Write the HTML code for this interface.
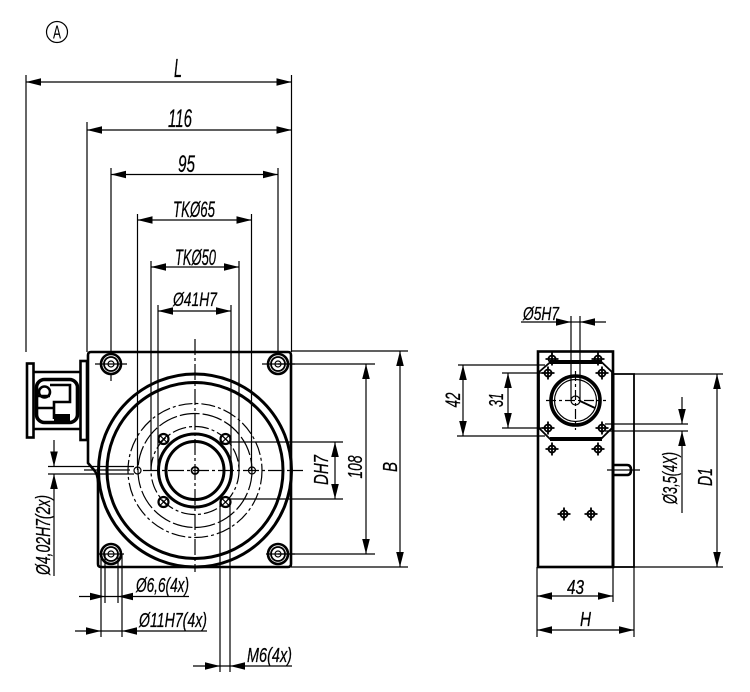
<!DOCTYPE html>
<html><head><meta charset="utf-8"><style>
html,body{margin:0;padding:0;background:#fff}
svg{display:block}
text{font-family:"Liberation Sans",sans-serif;font-style:italic;fill:#000;stroke:#000;stroke-width:.25}
.t{stroke:#000;stroke-width:1.2;fill:none}
.k{stroke:#000;stroke-width:2.6;fill:none}
.m{stroke:#000;stroke-width:1.8;fill:none}
.c{stroke:#000;stroke-width:1.2;fill:none;stroke-dasharray:16 3 3 3}
.d{stroke:#000;stroke-width:1.2;fill:none;stroke-dasharray:14 3 3 3}
</style></head><body>
<svg width="750" height="692" viewBox="0 0 750 692" xmlns="http://www.w3.org/2000/svg">
<defs>
<marker id="a" markerUnits="userSpaceOnUse" markerWidth="15" markerHeight="8" refX="15" refY="4" orient="auto-start-reverse"><path d="M0 .2L15 4L0 7.8Z" fill="#000"/></marker>
<g id="hole"><circle r="10" class="k"/><circle r="7" class="m"/><circle r="3" class="t"/></g>
<g id="xh"><circle r="5" stroke="#000" stroke-width="2.2" fill="none"/><path d="M-3.500-3.500L3.500 3.500M-3.500 3.500L3.500-3.500" class="t"/></g>
<g id="sh"><circle r="3.500" class="m"/><path d="M-6.500 0H6.500M0-6.500V6.500" class="m"/></g>
</defs>

<circle cx="57" cy="32" r="10.500" class="t"/>
<text x="57" y="38.500" font-size="18" text-anchor="middle" style="font-style:normal;stroke-width:0" textLength="8" lengthAdjust="spacingAndGlyphs">A</text>

<!-- Top dimensions -->
<path class="t" marker-start="url(#a)" marker-end="url(#a)" d="M26 82H291.500"/>
<path class="t" d="M26 75V352M291.500 75V352"/>
<path class="t" marker-start="url(#a)" marker-end="url(#a)" d="M87 130H291.500"/>
<path class="t" d="M87 122V352"/>
<path class="t" marker-start="url(#a)" marker-end="url(#a)" d="M111 174.500H278"/>
<path class="t" d="M111 168V352M278 168V352"/>
<path class="t" marker-start="url(#a)" marker-end="url(#a)" d="M137.500 220H251.500"/>
<path class="t" d="M137.500 214V470M251.500 214V470"/>
<path class="t" marker-start="url(#a)" marker-end="url(#a)" d="M151 267H239"/>
<path class="t" d="M151 261V470M239 261V470"/>
<path class="t" marker-start="url(#a)" marker-end="url(#a)" d="M158 311H231"/>
<path class="t" d="M158 305V470M231 305V470"/>
<text x="174" y="77" font-size="26" textLength="8" lengthAdjust="spacingAndGlyphs">L</text>
<text x="168" y="127" font-size="25" textLength="24" lengthAdjust="spacingAndGlyphs">116</text>
<text x="178" y="172" font-size="24" textLength="17" lengthAdjust="spacingAndGlyphs">95</text>
<text x="173" y="217" font-size="22" textLength="42" lengthAdjust="spacingAndGlyphs">TKØ65</text>
<text x="175" y="265" font-size="22" textLength="41" lengthAdjust="spacingAndGlyphs">TKØ50</text>
<text x="173" y="306" font-size="19" textLength="44" lengthAdjust="spacingAndGlyphs">Ø41H7</text>

<!-- Plate -->
<path class="k" d="M91 352H288Q291 352 291 355V564Q291 567 288 567H101Q98 567 98 564V483Q98 474 94 470L88 463V355Q88 352 91 352Z" fill="#fff"/>

<!-- Connector -->
<rect x="27" y="363.500" width="6.500" height="74" class="k"/>
<rect x="80.500" y="361" width="6.500" height="79" class="k"/>
<path class="k" d="M34 372H80M34 429H80"/>
<rect x="36.500" y="379.500" width="41" height="43" rx="8" stroke="#000" stroke-width="3.600" fill="none"/>
<circle cx="44.500" cy="392" r="5.500" stroke="#000" stroke-width="2.600" fill="none"/>
<path class="k" d="M50 385H70V402H54V419M38 408H54M38 396H50"/>
<path d="M54 414H70V421H54Z" fill="#000"/>

<!-- Circles -->
<circle cx="195" cy="470.500" r="96.500" stroke="#000" stroke-width="3" fill="none"/>
<circle cx="195" cy="470.500" r="88" stroke="#000" stroke-width="3" fill="none"/>
<circle cx="195" cy="470.500" r="36.500" stroke="#000" stroke-width="3" fill="none"/>
<circle cx="195" cy="470.500" r="29" stroke="#000" stroke-width="3" fill="none"/>
<circle cx="195" cy="470.500" r="3.500" class="m"/>
<circle cx="195" cy="470.500" r="67" class="d"/>
<circle cx="195" cy="470.500" r="57" class="d" style="stroke-dasharray:20 3"/>
<circle cx="195" cy="470.500" r="44" class="d"/>
<path class="c" d="M195 339V572M143 470.500H303"/>
<circle cx="137.500" cy="470.500" r="3.500" class="t"/>
<circle cx="252" cy="470.500" r="3.500" class="t"/>
<use href="#xh" x="163.500" y="439"/><use href="#xh" x="225.500" y="439"/>
<use href="#xh" x="163.500" y="502"/><use href="#xh" x="225.500" y="502"/>
<use href="#hole" x="111" y="364"/><use href="#hole" x="278" y="364"/>
<use href="#hole" x="111" y="554"/><use href="#hole" x="278" y="554"/>
<path class="t" d="M95 364H127M262 364H295M99 554H124M266 554H295M111 374V381"/>

<!-- Right-side dims of left view -->
<path class="t" d="M291 351H408M291 567H408M278 364H375M278 554H375M230 442H343M230 499H343"/>
<path class="t" marker-start="url(#a)" marker-end="url(#a)" d="M400 351V567"/>
<path class="t" marker-start="url(#a)" marker-end="url(#a)" d="M366 364V554"/>
<path class="t" marker-start="url(#a)" marker-end="url(#a)" d="M335 442V499"/>
<text transform="translate(397 467) rotate(-90)" font-size="20" text-anchor="middle" textLength="10" lengthAdjust="spacingAndGlyphs">B</text>
<text transform="translate(362 467) rotate(-90)" font-size="20" text-anchor="middle" textLength="23" lengthAdjust="spacingAndGlyphs">108</text>
<text transform="translate(328 470) rotate(-90)" font-size="20" text-anchor="middle" textLength="30" lengthAdjust="spacingAndGlyphs">DH7</text>

<!-- Ø4,02H7 -->
<path class="t" d="M48 466.500H134M48 474H134M84 470H130"/>
<path class="t" marker-end="url(#a)" d="M54 440V466.500"/>
<path class="t" marker-end="url(#a)" d="M54 576V474"/>
<text transform="translate(50 575) rotate(-90)" font-size="20" textLength="80" lengthAdjust="spacingAndGlyphs">Ø4,02H7(2x)</text>

<!-- Bottom dims -->
<path class="t" d="M101 554V637M122 554V637M105 554V603M118 554V603M220 502V672M230 502V672"/>
<path class="t" marker-end="url(#a)" d="M79 596.500H105"/>
<path class="t" marker-end="url(#a)" d="M189 596.500H118"/>
<path class="t" d="M105 596.500H118M101 631H122M220 666H230"/>
<path class="t" marker-end="url(#a)" d="M75 631H101"/>
<path class="t" marker-end="url(#a)" d="M207 631H122"/>
<path class="t" marker-end="url(#a)" d="M193 666H220"/>
<path class="t" marker-end="url(#a)" d="M292 666H230"/>
<text x="136" y="592" font-size="20" textLength="53" lengthAdjust="spacingAndGlyphs">Ø6,6(4x)</text>
<text x="139" y="627" font-size="20" textLength="68" lengthAdjust="spacingAndGlyphs">Ø11H7(4x)</text>
<text x="247" y="662" font-size="20" textLength="45" lengthAdjust="spacingAndGlyphs">M6(4x)</text>

<!-- Right view -->
<rect x="538" y="351.500" width="75" height="215.500" class="k"/>
<path class="m" d="M613 374H634V567H613"/>
<path stroke="#000" stroke-width="3" d="M613 374V567"/>
<path class="m" d="M551 361.500H601L612 372V428L601 439H550L539 428V372Z"/>
<path d="M550 360H602V364H550ZM550 437H602V441H550Z" fill="#000"/>
<circle cx="575.500" cy="400.500" r="24.500" stroke="#000" stroke-width="3.600" fill="none"/>
<circle cx="575.500" cy="400.500" r="21" class="t"/>
<circle cx="575.500" cy="400.500" r="4.500" class="t"/>
<path class="m" d="M580 401L595 408"/>
<path class="c" style="stroke-dasharray:10 3 3 3" d="M575.500 371V430M546 400.500H606"/>
<use href="#sh" x="548" y="373"/><use href="#sh" x="602" y="373"/>
<use href="#sh" x="548" y="428"/><use href="#sh" x="602" y="428"/>
<use href="#sh" x="552" y="359"/><use href="#sh" x="598" y="359"/>
<use href="#sh" x="552" y="449"/><use href="#sh" x="598" y="449"/>
<use href="#sh" x="564" y="514"/><use href="#sh" x="591" y="514"/>
<path class="k" d="M614 465H627Q631 465 631 470Q631 475 627 475H614"/>
<path class="t" d="M607 470H640"/>

<!-- Right view dims -->
<path class="t" d="M571 316V400M580 316V400"/>
<path class="t" marker-end="url(#a)" d="M521 322H571"/>
<path class="t" marker-end="url(#a)" d="M606 322H580"/>
<path class="t" d="M571 322H580"/>
<text x="523" y="320" font-size="18" textLength="36" lengthAdjust="spacingAndGlyphs">Ø5H7</text>
<path class="t" d="M458 365H545M457 436H545M502 373H548M502 428H548"/>
<path class="t" marker-start="url(#a)" marker-end="url(#a)" d="M463 365V436"/>
<path class="t" marker-start="url(#a)" marker-end="url(#a)" d="M508 373V428"/>
<text transform="translate(460 400) rotate(-90)" font-size="21" text-anchor="middle" textLength="15" lengthAdjust="spacingAndGlyphs">42</text>
<text transform="translate(503 400) rotate(-90)" font-size="20" text-anchor="middle" textLength="14" lengthAdjust="spacingAndGlyphs">31</text>
<path class="t" d="M634 374H723M613 567H723"/>
<path class="t" marker-start="url(#a)" marker-end="url(#a)" d="M717 374V567"/>
<text transform="translate(712 477) rotate(-90)" font-size="20" text-anchor="middle" textLength="18" lengthAdjust="spacingAndGlyphs">D1</text>
<path class="t" d="M605 424H688M605 431H688"/>
<path class="t" marker-end="url(#a)" d="M682 397V424"/>
<path class="t" marker-end="url(#a)" d="M682 513V431"/>
<text transform="translate(677 504) rotate(-90)" font-size="20" textLength="52" lengthAdjust="spacingAndGlyphs">Ø3,5(4X)</text>
<path class="t" d="M537 567V637M613 567V602M634 567V637"/>
<path class="t" marker-start="url(#a)" marker-end="url(#a)" d="M537 596H613"/>
<path class="t" marker-start="url(#a)" marker-end="url(#a)" d="M537 630H634"/>
<text x="567" y="594" font-size="20" textLength="17" lengthAdjust="spacingAndGlyphs">43</text>
<text x="580" y="626" font-size="20" textLength="11" lengthAdjust="spacingAndGlyphs">H</text>
</svg>
</body></html>
